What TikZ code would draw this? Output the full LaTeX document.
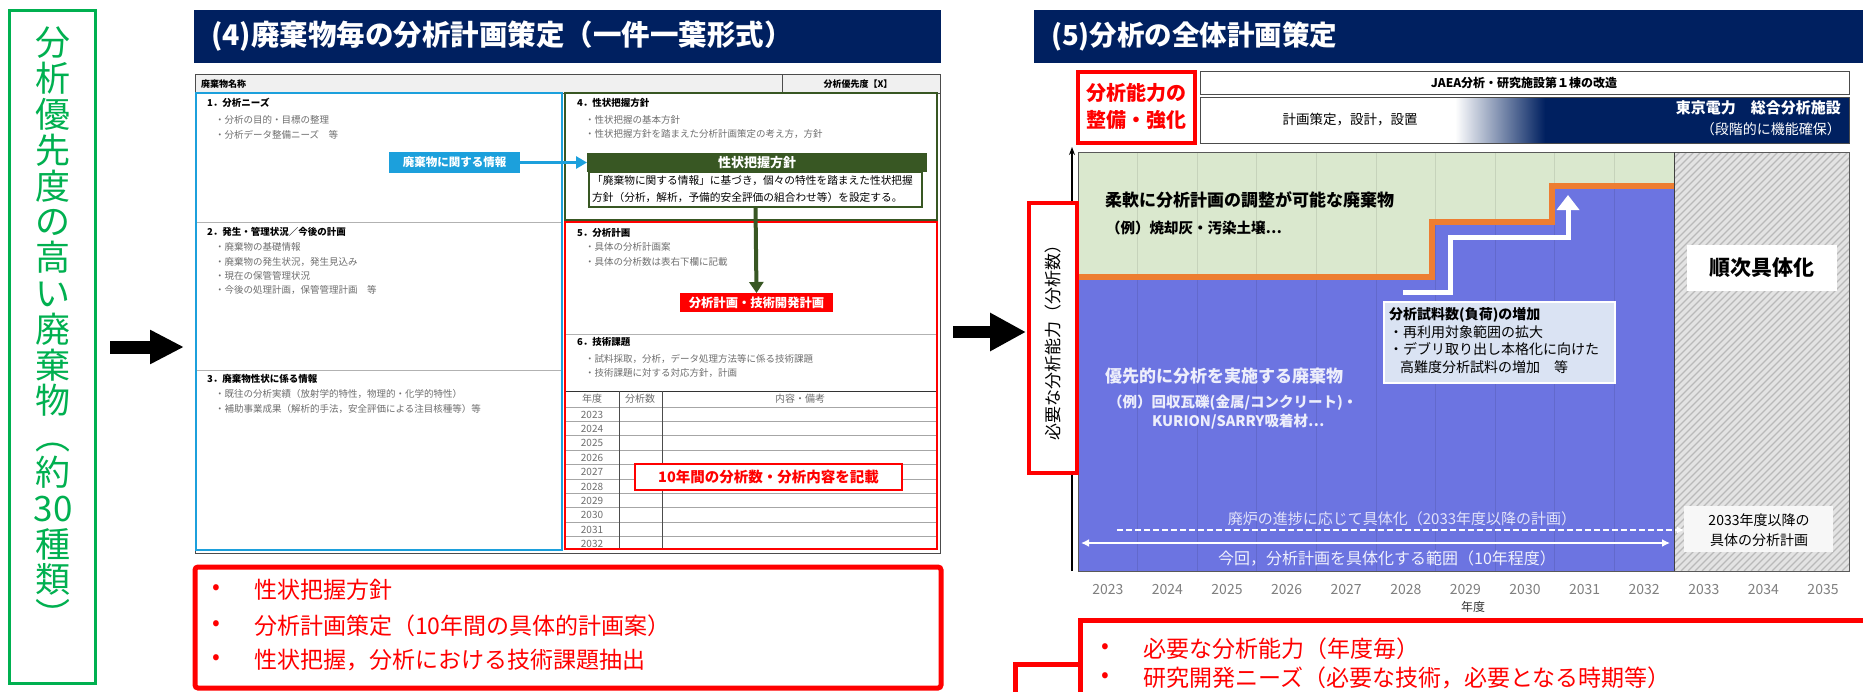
\documentclass[tikz,border=0pt]{standalone}
\usepackage{fontspec}
\setmainfont{Noto Sans CJK JP}
\usetikzlibrary{arrows.meta,shadings,fit}
\definecolor{navy}{RGB}{0,32,96}
\definecolor{lgreen}{RGB}{0,176,80}
\definecolor{fblue}{RGB}{28,160,220}
\definecolor{dgreen}{RGB}{56,87,35}
\definecolor{fred}{RGB}{255,0,0}
\definecolor{cgreen}{RGB}{218,232,206}
\definecolor{cblue}{RGB}{108,116,225}
\definecolor{corange}{RGB}{237,125,49}
\definecolor{cinfo}{RGB}{218,227,243}
\definecolor{fgray}{RGB}{110,110,110}
\definecolor{ygray}{RGB}{127,127,127}
\newcommand{\fz}[1]{\fontsize{#1}{#1}\selectfont}
\begin{document}
\begin{tikzpicture}[x=1pt,y=-1pt,
  txt/.style={inner sep=0pt, anchor=west},
  ctxt/.style={inner sep=0pt},
  fh/.style={txt, font=\fz{9.5}\bfseries},
  fi/.style={txt, font=\fz{9.5}, text=fgray},
  rect/.style={inner sep=0pt, outer sep=0pt},
  bigarrow/.style={line width=13pt, -{Triangle[length=34pt,width=32pt]}},
  redtxt/.style={txt, font=\fz{23}, text=fred},
  yearlbl/.style={inner sep=0pt, font=\fz{14}, text=ygray},
  tbl/.style={inner sep=0pt, font=\fz{10}, text=fgray},
]
\useasboundingbox (0,0) rectangle (1863,691);
\clip (0,0) rectangle (1863,691);
\fill[white] (0,0) rectangle (1863,691);

% ---------------- left green box ----------------
\node[rect, fit={(9,10) (95,683)}, draw=lgreen, line width=3pt] (gleft) {};
\node[ctxt, align=center, text=lgreen, font={\fontsize{35}{35.8}\selectfont}] (gtext) at (53,328)
  {分\\析\\優\\先\\度\\の\\高\\い\\廃\\棄\\物\\︵\\約\\30\\種\\類\\︶};

% arrow 1
\coordinate (a1s) at (110,347);
\coordinate (a1e) at (184,347);
\draw[bigarrow] (a1s) -- (a1e);

% ---------------- panel (4) ----------------
\node[rect, fit={(194,10) (941,63)}, fill=navy] (h4) {};
\node[txt, font=\fz{28.5}\bfseries, text=white] (h4t) at (211,36) {(4)廃棄物毎の分析計画策定（一件一葉形式）};

\node[rect, fit={(195,74) (940,93)}, fill=gray!12, draw=gray!60!black, line width=1pt] (frow) {};
\node[fh, font=\fz{9}\bfseries] (fname) at (201,84) {廃棄物名称};
\node[rect, fit={(782,74) (940,93)}, draw=gray!60!black, line width=1pt] (fprio) {};
\node[ctxt, font=\fz{9}\bfseries] (fpriot) at (858,84) {分析優先度【X】};
\node[rect, fit={(195,93) (940,553)}, draw=gray!60!black, line width=1pt] (fbody) {};

% left column
\draw[gray!60, line width=0.8pt] (196,222) -- (562,222);
\draw[gray!60, line width=0.8pt] (196,370) -- (562,370);
\node[fh] (s1) at (207,103) {1．分析ニーズ};
\node[fi] (s1a) at (215,120) {・分析の目的・目標の整理};
\node[fi] (s1b) at (215,135) {・分析データ整備ニーズ　等};
\node[fh] (s2) at (207,232) {2．発生・管理状況／今後の計画};
\node[fi] (s2a) at (215,247) {・廃棄物の基礎情報};
\node[fi] (s2b) at (215,262) {・廃棄物の発生状況，発生見込み};
\node[fi] (s2c) at (215,276) {・現在の保管管理状況};
\node[fi] (s2d) at (215,290) {・今後の処理計画，保管管理計画　等};
\node[fh] (s3) at (207,379) {3．廃棄物性状に係る情報};
\node[fi] (s3a) at (215,394) {・既往の分析実績（放射学的特性，物理的・化学的特性）};
\node[fi] (s3b) at (215,409) {・補助事業成果（解析的手法，安全評価による注目核種等）等};
\node[rect, fit={(196,93) (562,550)}, draw=fblue, line width=2.5pt] (bbox) {};

% right column
\node[fh] (s4) at (577,103) {4．性状把握方針};
\node[fi] (s4a) at (585,120) {・性状把握の基本方針};
\node[fi] (s4b) at (585,134) {・性状把握方針を踏まえた分析計画策定の考え方，方針};
\node[fh] (s5) at (577,233) {5．分析計画};
\node[fi] (s5a) at (585,247) {・具体の分析計画案};
\node[fi] (s5b) at (585,262) {・具体の分析数は表右下欄に記載};
\draw[gray!60, line width=0.8pt] (565,334) -- (937,334);
\node[fh] (s6) at (577,342) {6．技術課題};
\node[fi] (s6a) at (585,359) {・試料採取，分析，データ処理方法等に係る技術課題};
\node[fi] (s6b) at (585,373) {・技術課題に対する対応方針，計画};

% table
\draw[black!80, line width=1pt] (565,391) -- (937,391);
\foreach \k in {0,...,9} \draw[gray!70, line width=0.7pt] (565,{407+14.4*\k}) -- (937,{407+14.4*\k});
\draw[black!70, line width=0.7pt] (619,391) -- (619,549);
\draw[black!70, line width=0.7pt] (662,391) -- (662,549);
\node[tbl] (th1) at (592,399) {年度};
\node[tbl] (th2) at (640,399) {分析数};
\node[tbl] (th3) at (800,399) {内容・備考};
\foreach \y [count=\k from 0] in {2023,2024,2025,2026,2027,2028,2029,2030,2031,2032}
  \node[tbl] (yr\k) at (592,{414.6+14.4*\k}) {\y};

\node[rect, fit={(565,93) (937,220)}, draw=dgreen, line width=2pt] (gbox) {};
\node[rect, fit={(565,222) (937,549)}, draw=fred, line width=2.5pt] (rbox) {};

% info label and arrows
\node[rect, fit={(389,152) (520,173)}, fill=fblue] (info) {};
\node[ctxt, text=white, font=\fz{11.5}\bfseries] (infot) at (454.5,162.5) {廃棄物に関する情報};
\node[rect, fit={(587,153) (927,172)}, fill=dgreen] (ptitle) {};
\node[ctxt, text=white, font=\fz{13}\bfseries] (ptitlet) at (757,162.5) {性状把握方針};
\node[rect, fit={(589,172) (922,207)}, fill=white, draw=dgreen, line width=1.2pt] (pdesc) {};
\node[txt, font=\fz{10.7}] (pd1) at (592,181) {「廃棄物に関する情報」に基づき，個々の特性を踏まえた性状把握};
\node[txt, font=\fz{10.7}] (pd2) at (592,197) {方針（分析，解析，予備的安全評価の組合わせ等）を設定する。};
\draw[fblue, line width=3pt, -{Triangle[length=11pt,width=12pt]}] (info.east) -- (ptitle.west);
\node[rect, fit={(680,293) (833,312)}, fill=fred] (plan) {};
\node[ctxt, text=white, font=\fz{12.3}\bfseries] (plant) at (756.5,302.5) {分析計画・技術開発計画};
\draw[dgreen, line width=4pt, -{Triangle[length=11pt,width=14pt]}] (pdesc.south) -- (plan.north);
\node[rect, fit={(635,464) (902,490)}, fill=white, draw=fred, line width=2pt] (tenyr) {};
\node[ctxt, text=fred, font=\fz{14.5}\bfseries] (tenyrt) at (768.5,477) {10年間の分析数・分析内容を記載};

% bottom left red box
\node[rect, fit={(195,567) (941,688)}, draw=fred, line width=5pt, rounded corners=3pt] (lred) {};
\node[redtxt] (lb1) at (212,590) {•};
\node[redtxt] (lt1) at (254,590) {性状把握方針};
\node[redtxt] (lb2) at (212,626) {•};
\node[redtxt] (lt2) at (254,626) {分析計画策定（10年間の具体的計画案）};
\node[redtxt] (lb3) at (212,660) {•};
\node[redtxt] (lt3) at (254,660) {性状把握，分析における技術課題抽出};

% arrow 2
\coordinate (a2s) at (953,332);
\coordinate (a2e) at (1026,332);
\draw[line width=12pt, -{Triangle[length=36pt,width=36pt]}] (a2s) -- (a2e);

% ---------------- panel (5) ----------------
\node[rect, fit={(1034,10) (1870,63)}, fill=navy] (h5) {};
\node[txt, font=\fz{27.5}\bfseries, text=white] (h5t) at (1051,36) {(5)分析の全体計画策定};

\node[rect, fit={(1078,72) (1195,143)}, draw=fred, line width=3.5pt, fill=white] (cap) {};
\node[ctxt, font=\fz{20}\bfseries, text=fred] (cap1) at (1136,93) {分析能力の};
\node[ctxt, font=\fz{20}\bfseries, text=fred] (cap2) at (1136,120) {整備・強化};

\node[rect, fit={(1200,71) (1849,94)}, draw=gray!60!black, line width=0.8pt, fill=white] (jaea) {};
\node[ctxt, font=\fz{12}\bfseries] (jaeat) at (1524,82.5) {JAEA分析・研究施設第１棟の改造};
\fill[white] (1200,97) rectangle (1455,143);
\shade[left color=white, right color=navy] (1455,97) rectangle (1545,143);
\fill[navy] (1545,97) rectangle (1849,143);
\node[rect, fit={(1200,97) (1849,143)}, draw=gray!60!black, line width=0.8pt] (fac) {};
\node[ctxt, font=\fz{13.5}] (fac1) at (1350,120) {計画策定，設計，設置};
\node[ctxt, anchor=east, font=\fz{15}\bfseries, text=white] (fac2) at (1841,108) {東京電力　総合分析施設};
\node[ctxt, anchor=east, font=\fz{14}, text=white] (fac3) at (1841,129) {（段階的に機能確保）};

% chart
\fill[cgreen] (1078,152) rectangle (1674,571);
\fill[cblue] (1078,277) -- (1432,277) -- (1432,222) -- (1552,222) -- (1552,186) -- (1674,186) -- (1674,571) -- (1078,571) -- cycle;
\foreach \k in {1,...,9} \draw[black, opacity=0.09, line width=1pt] ({1078+59.6*\k},152) -- ({1078+59.6*\k},571);
\draw[corange, line width=6pt] (1078,277) -- (1432,277) -- (1432,222) -- (1552,222) -- (1552,186) -- (1674,186);
% hatch
\fill[gray!22] (1674,152) rectangle (1849,571);
\begin{scope}
\clip (1674,152) rectangle (1849,571);
\foreach \i in {0,...,86} \draw[gray!55, line width=1.3pt] ({1674-420+\i*7},571) -- ++(420,-420);
\end{scope}
\draw[gray!70!black, line width=1pt] (1078,152) rectangle (1849,571);
\draw[gray!50!black, line width=1pt] (1674,152) -- (1674,571);

% axis
\coordinate (ax0) at (1072,571);
\coordinate (ax1) at (1072,147);
\draw[black, line width=1.2pt, -{Stealth[length=8pt,width=6pt]}] (ax0) -- (ax1);
\node[rect, fit={(1029,203) (1077,473)}, draw=fred, line width=4pt, fill=white] (ylab) {};
\node[ctxt, rotate=90, font=\fz{17}] (ylabt) at (1053,338) {必要な分析能力（分析数）};

% chart texts
\node[txt, font=\fz{17}\bfseries] (flex1) at (1105,200) {柔軟に分析計画の調整が可能な廃棄物};
\node[txt, font=\fz{14.5}\bfseries] (flex2) at (1106,228) {（例）焼却灰・汚染土壌…};
\node[txt, font=\fz{17}\bfseries, text=white!88!cblue] (pri1) at (1105,376) {優先的に分析を実施する廃棄物};
\node[txt, font=\fz{14.5}\bfseries, text=white!88!cblue] (pri2) at (1108,403) {（例）回収瓦礫(金属/コンクリート)・};
\node[txt, font=\fz{14.5}\bfseries, text=white!88!cblue] (pri3) at (1152,422) {KURION/SARRY吸着材…};

% white step arrow
\coordinate (w0) at (1403,292);
\coordinate (w1) at (1450,292);
\coordinate (w2) at (1450,237);
\coordinate (w3) at (1568,237);
\coordinate (w4) at (1568,195);
\draw[white, line width=5pt, -{Triangle[length=15pt,width=22pt]}] (w0) -- (w1) -- (w2) -- (w3) -- (w4);

% info box
\node[rect, fit={(1384,302) (1615,383)}, fill=cinfo, draw=white, line width=2pt] (ibox) {};
\node[txt, font=\fz{14}\bfseries] (ib1) at (1389,315) {分析試料数(負荷)の増加};
\node[txt, font=\fz{14}] (ib2) at (1389,332) {・再利用対象範囲の拡大};
\node[txt, font=\fz{14}] (ib3) at (1389,349) {・デブリ取り出し本格化に向けた};
\node[txt, font=\fz{14}] (ib4) at (1400,367) {高難度分析試料の増加　等};

% sequential box
\node[rect, fit={(1687,245) (1837,291)}, fill=white] (seq) {};
\node[ctxt, font=\fz{21}\bfseries] (seqt) at (1762,268) {順次具体化};

% dashed & range arrows
\node[ctxt, font=\fz{15}, text=white!80!cblue] (prog) at (1402,519) {廃炉の進捗に応じて具体化（2033年度以降の計画）};
\node[rect, fit={(1684,506) (1833,552)}, fill=white!94!gray] (later) {};
\node[ctxt, font=\fz{14}] (later1) at (1759,520) {2033年度以降の};
\node[ctxt, font=\fz{14}] (later2) at (1759,540) {具体の分析計画};
\coordinate (dls) at (1117,530);
\draw[white, line width=2pt, dash pattern=on 6pt off 3pt, -{Latex[length=7pt,width=7pt]}] (dls) -- (dls -| later.west);
\coordinate (rl) at (1081,543);
\coordinate (rr) at (1670,543);
\draw[white, line width=2pt, {Latex[length=8pt,width=8pt]}-{Latex[length=8pt,width=8pt]}] (rl) -- (rr);
\node[ctxt, font=\fz{16}, text=white!90!cblue] (range) at (1387,558) {今回，分析計画を具体化する範囲（10年程度）};

% years
\foreach \y [count=\k from 0] in {2023,2024,2025,2026,2027,2028,2029,2030,2031,2032,2033,2034,2035}
  \node[yearlbl] (yl\k) at ({1107.8+59.6*\k},589) {\y};
\node[ctxt, font=\fz{12}, text=black!80] (nendo) at (1473,607) {年度};

% bottom right red box
\node[rect, fit={(1080,620) (1880,705)}, draw=fred, line width=5pt] (rred) {};
\coordinate (rc1) at (1015,664);
\coordinate (rc2) at (1015,700);
\draw[fred, line width=5pt] (rred.west |- rc1) -- (rc1) -- (rc2);
\node[redtxt] (rb1) at (1101,649) {•};
\node[redtxt] (rt1) at (1143,649) {必要な分析能力（年度毎）};
\node[redtxt] (rb2) at (1101,678) {•};
\node[redtxt] (rt2) at (1143,678) {研究開発ニーズ（必要な技術，必要となる時期等）};
\end{tikzpicture}
\end{document}
